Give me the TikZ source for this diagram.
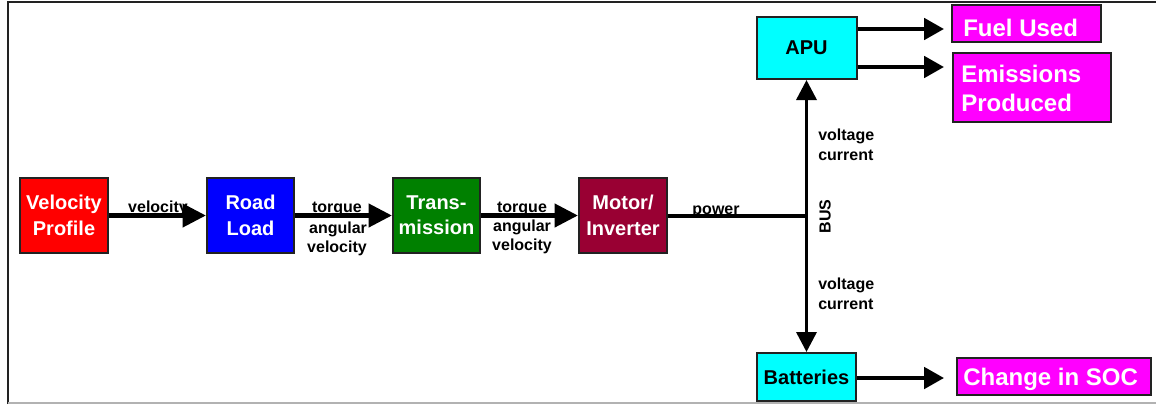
\documentclass[tikz,border=0pt]{standalone}
\usepackage{fontspec}
\setmainfont{Liberation Sans}
\usetikzlibrary{arrows.meta}
\definecolor{vpred}{HTML}{FF0000}
\definecolor{roadblue}{HTML}{0000FF}
\definecolor{transgreen}{HTML}{008000}
\definecolor{motorred}{HTML}{990033}
\definecolor{unitcyan}{HTML}{00FFFF}
\definecolor{outmagenta}{HTML}{FF00FF}
\definecolor{edge}{HTML}{222222}
\begin{document}
\begin{tikzpicture}[x=0.75pt,y=-0.75pt,
  block/.style={draw=edge, line width=1.5pt, inner sep=0pt,
    font=\fontsize{15}{19}\selectfont\bfseries, align=center, text=white},
  outbox/.style={draw=edge, line width=1.5pt, inner sep=0pt, fill=outmagenta},
  outtext/.style={inner sep=0pt, anchor=base west, text=white,
    font=\fontsize{18}{21}\selectfont\bfseries},
  lbl/.style={inner sep=0pt, anchor=base, font=\fontsize{12}{14}\selectfont\bfseries},
  lblw/.style={lbl, anchor=base west},
  mainarrow/.style={line width=3.75pt, -{Triangle[length=17.5pt,width=17pt]}},
  sidearrow/.style={line width=3pt, -{Triangle[length=15pt,width=16pt]}},
  busarrow/.style={line width=2.6pt, -{Triangle[length=15pt,width=15pt]}},
  powerline/.style={line width=2.4pt},
  frameline/.style={draw=edge, line width=1.6pt}
]
\useasboundingbox (0,0) rectangle (1156,404);

% frame
\draw[frameline] (8,404) -- (8,2) -- (1156,2);
\draw[black!30, line width=1.2pt] (8,402.8) -- (1156,402.8);

% drive chain
\node[block, fill=vpred, minimum width={88*0.75pt}, minimum height={75*0.75pt}]
  (vp) at (64,215.5) {Velocity\\Profile};
\node[block, fill=roadblue, minimum width={87*0.75pt}, minimum height={75*0.75pt}]
  (road) at (250.5,215.5) {Road\\Load};
\node[block, fill=transgreen, minimum width={87*0.75pt}, minimum height={75*0.75pt}]
  (trans) at (436.5,215.5) {Trans-\\mission};
\node[block, fill=motorred, minimum width={88*0.75pt}, minimum height={75*0.75pt}]
  (motor) at (623,215.5) {Motor/\\Inverter};

% power units on the bus
\node[block, fill=unitcyan, text=black, minimum width={100*0.75pt}, minimum height={62*0.75pt}]
  (apu) at (806.5,48) {APU};
\node[block, fill=unitcyan, text=black, minimum width={99*0.75pt}, minimum height={48*0.75pt}]
  (batt) at (806.5,377) {Batteries};

% outputs
\node[outbox, minimum width={149*0.75pt}, minimum height={37*0.75pt}] (fuel) at (1026.5,23.5) {};
\node[outbox, minimum width={158*0.75pt}, minimum height={69*0.75pt}] (emis) at (1032,87.5) {};
\node[outbox, minimum width={194*0.75pt}, minimum height={37*0.75pt}] (soc) at (1054,376.5) {};
\node[outtext] (fueltxt) at (963,36) {Fuel Used};
\node[outtext] (emistxt1) at (961,82) {Emissions};
\node[outtext] (emistxt2) at (961,111) {Produced};
\node[outtext] (soctxt) at (963,385) {Change in SOC};

% connectors
\draw[mainarrow] (vp.east) -- (road.west);
\draw[mainarrow] (road.east) -- (trans.west);
\draw[mainarrow] (trans.east) -- (motor.west);

\coordinate (bus) at (806.5,216);
\draw[powerline] (motor.east |- bus) -- (bus);
\draw[busarrow] (bus) -- (apu.south);
\draw[busarrow] (bus) -- (batt.north);

\coordinate (fuelin) at (944,29);
\coordinate (emisin) at (944,67);
\coordinate (socin) at (944,378);
\draw[sidearrow] (apu.east |- fuelin) -- (fuelin);
\draw[sidearrow] (apu.east |- emisin) -- (emisin);
\draw[sidearrow] (batt.east |- socin) -- (socin);

% signal labels
\node[lbl] (l1) at (158,212) {velocity};
\node[lbl] (l2a) at (337,212) {torque};
\node[lbl] (l2b) at (338,233) {angular};
\node[lbl] (l2c) at (337,252) {velocity};
\node[lbl] (l3a) at (522,212) {torque};
\node[lbl] (l3b) at (522,231) {angular};
\node[lbl] (l3c) at (522,250) {velocity};
\node[lbl] (l4) at (716,214) {power};
\node[lblw] (l5a) at (818,140) {voltage};
\node[lblw] (l5b) at (818,160) {current};
\node[lblw] (l6a) at (818,289) {voltage};
\node[lblw] (l6b) at (818,309) {current};
\node[lbl, anchor=center, rotate=90] (buslbl) at (825,216.5) {BUS};
\end{tikzpicture}
\end{document}
